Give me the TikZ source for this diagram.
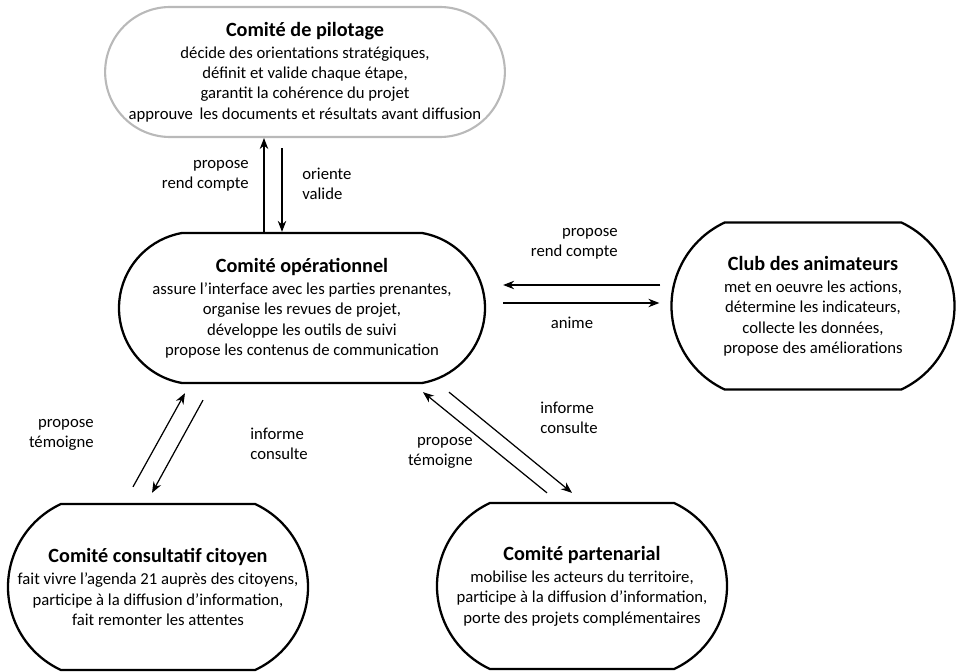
\documentclass[tikz,border=0pt]{standalone}
\usepackage{fontspec}
\setmainfont{Carlito}
\usepackage{tikz}
\usetikzlibrary{arrows.meta, positioning, calc, shapes.misc}
\newcommand{\titre}[1]{{\fontsize{11.5}{13}\selectfont\bfseries #1}\\[1pt]}

\begin{document}
\begin{tikzpicture}[
    x=0.02cm, y=-0.02cm,
    comite/.style={rounded rectangle, draw, line width=1.3pt, align=center, inner sep=0pt,
        font=\fontsize{9.5}{11.6}\selectfont},
    lbl/.style={font=\fontsize{9.5}{11.6}\selectfont, inner sep=0pt},
    arrow/.style={-{Stealth[length=2.2mm, width=1.7mm]}, line width=0.7pt},
]
    \useasboundingbox (0,0) rectangle (961,672);

    % Comites
    \node[comite, draw=gray!55, line width=1.2pt, minimum width=376*0.02cm, minimum height=130*0.02cm] (pil) at (305,72)
        {\titre{Comité de pilotage}décide des orientations stratégiques,\\définit et valide chaque étape,\\garantit la cohérence du projet\\approuve \,les documents et résultats avant diffusion};
    \node[comite, rounded rectangle arc length=160, minimum width=366*0.02cm, minimum height=150*0.02cm] (op) at (302,308)
        {\titre{Comité opérationnel}assure l'interface avec les parties prenantes,\\organise les revues de projet,\\développe les outils de suivi\\propose les contenus de communication};
    \node[comite, rounded rectangle arc length=130, minimum width=283*0.02cm, minimum height=167*0.02cm] (club) at (813,306)
        {\titre{Club des animateurs}met en oeuvre les actions,\\détermine les indicateurs,\\collecte les données,\\propose des améliorations};
    \node[comite, rounded rectangle arc length=130, minimum width=300*0.02cm, minimum height=166*0.02cm] (cc) at (158,587)
        {\titre{Comité consultatif citoyen}fait vivre l'agenda 21 auprès des citoyens,\\participe à la diffusion d'information,\\fait remonter les attentes};
    \node[comite, rounded rectangle arc length=130, minimum width=290*0.02cm, minimum height=166*0.02cm] (part) at (582,586)
        {\titre{Comité partenarial}mobilise les acteurs du territoire,\\participe à la diffusion d'information,\\porte des projets complémentaires};

    % Pilotage <-> operationnel
    \draw[arrow] ($(op.north)+(-38,0)$) -- ($(op.north |- pil.south)+(-38,0)$);
    \draw[arrow] ($(op.north |- pil.south)+(-20,10)$) -- ($(op.north)+(-20,0)$);
    \node[lbl, align=right, anchor=east] (l1) at (249,176) {propose\\rend compte};
    \node[lbl, align=left, anchor=west] (l2) at (302,184) {oriente\\valide};

    % Club <-> operationnel
    \draw[arrow] ($(club.west |- op.east)+(-10,-23)$) -- ($(op.east)+(17,-23)$);
    \draw[arrow] ($(op.east)+(17,-5)$) -- ($(club.west |- op.east)+(-11,-5)$);
    \node[lbl, align=right, anchor=east] (l3) at (618,244) {propose\\rend compte};
    \node[lbl] (l4) at (572,323) {anime};

    % Consultatif <-> operationnel
    \draw[arrow] ($(cc.north)+(-25,-16)$) -- ($(op.south)+(-117,9)$);
    \draw[arrow] ($(op.south)+(-99,16)$) -- ($(cc.north)+(-6,-10)$);
    \node[lbl, align=right, anchor=east] (l5) at (94,435) {propose\\témoigne};
    \node[lbl, align=left, anchor=west] (l6) at (250,444) {informe\\consulte};

    % Partenarial <-> operationnel
    \draw[arrow] ($(part.north)+(-35,-9)$) -- ($(op.south)+(121,8)$);
    \draw[arrow] ($(op.south)+(147,8)$) -- ($(part.north)+(-10,-9)$);
    \node[lbl, align=left, anchor=west] (l7) at (540,418) {informe\\consulte};
    \node[lbl, align=right, anchor=east] (l8) at (473,453) {propose\\témoigne};
\end{tikzpicture}
\end{document}
